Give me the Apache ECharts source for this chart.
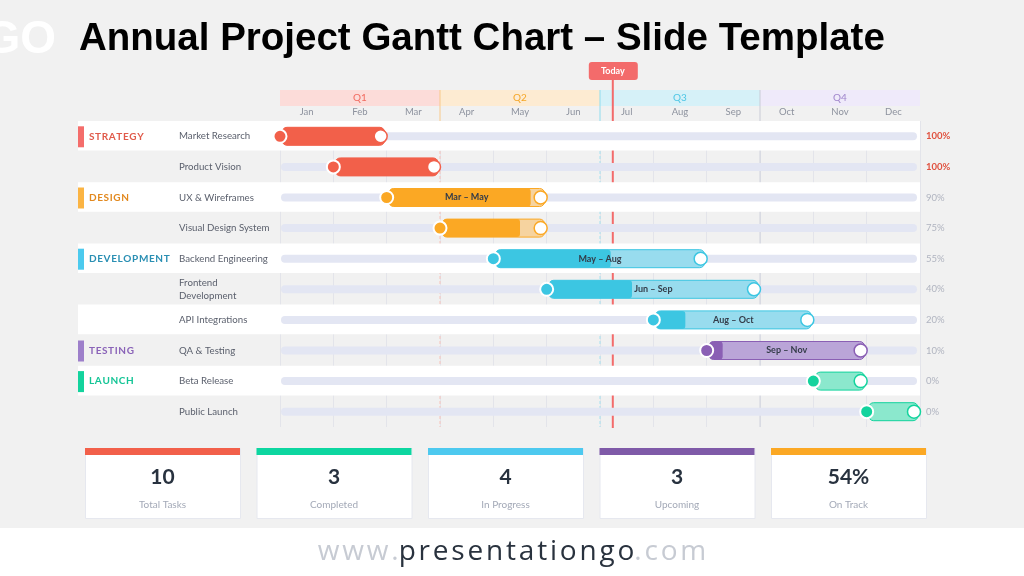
<!DOCTYPE html>
<html>
<head>
<meta charset="utf-8">
<script src="https://cdn.jsdelivr.net/npm/echarts@6/dist/echarts.min.js"></script>
<style>
  html, body { margin: 0; padding: 0; background: #f1f1f1; }
  #main { width: 1024px; height: 576px; }
</style>
</head>
<body>
<div id="main"></div>
<script>
// data
const months = ['Jan', 'Feb', 'Mar', 'Apr', 'May', 'Jun', 'Jul', 'Aug', 'Sep', 'Oct', 'Nov', 'Dec']
const quarters = ['Q1', 'Q2', 'Q3', 'Q4']
const quarterStart = [0, 3, 6, 9]
const groups = ['STRATEGY', 'STRATEGY', 'DESIGN', 'DESIGN', 'DEVELOPMENT', 'DEVELOPMENT', 'DEVELOPMENT', 'TESTING', 'LAUNCH', 'LAUNCH']
const tasks = ['Market Research', 'Product Vision', 'UX & Wireframes', 'Visual Design System', 'Backend Engineering',
  'Frontend Development', 'API Integrations', 'QA & Testing', 'Beta Release', 'Public Launch']
const startMonth = [0, 1, 2, 3, 4, 5, 7, 8, 10, 11]
const endMonth = [2, 3, 5, 5, 8, 9, 10, 11, 11, 12]
const progress = [100, 100, 90, 75, 55, 40, 20, 10, 0, 0]
const rangeLabels = ['', '', 'Mar – May', '', 'May – Aug', 'Jun – Sep', 'Aug – Oct', 'Sep – Nov', '', '']
const todayMonth = 6.24
const statValues = ['10', '3', '4', '3', '54%']
const statLabels = ['Total Tasks', 'Completed', 'In Progress', 'Upcoming', 'On Track']

// styles
const FONT = 'Lato, "Open Sans", sans-serif'
const groupColors = {
  STRATEGY: { main: '#f2604a', light: '#f8b2a4', text: '#e05a4a', mark: '#f46d6b' },
  DESIGN: { main: '#fba824', light: '#f6d39f', text: '#e2891f', mark: '#fbb443' },
  DEVELOPMENT: { main: '#3cc6e2', light: '#98dcee', text: '#2a8fb3', mark: '#4ccaee' },
  TESTING: { main: '#8a5fb4', light: '#baa5d8', text: '#8a63b8', mark: '#9d7fca' },
  LAUNCH: { main: '#13d39d', light: '#8be8cd', text: '#14c596', mark: '#13d39d' },
}
const quarterColors = [
  { bg: '#fcdcd9', text: '#f26b5f', line: '#f7c2b9', dash: [3, 2] },
  { bg: '#fdebd2', text: '#f5a626', line: '#f7c2b9', dash: [3, 2] },
  { bg: '#d6f1f8', text: '#4dc6e5', line: '#a6e1ee', dash: [3, 2] },
  { bg: '#efeafa', text: '#a085cc', line: '#d0d2dc', dash: null },
]
const statColors = ['#f2604a', '#0dd6a0', '#4dc9ef', '#7f5aa8', '#fba824']

const spaced = (s) => s.split('').join('\u200a')

const chart = echarts.init(document.getElementById('main'))

// 季度表头 + 季度分隔线
function renderQuarter(params, api) {
  const q = params.dataIndex
  const cs = params.coordSys
  const x0 = api.coord([quarterStart[q], 0])[0]
  const x1 = api.coord([quarterStart[q] + 3, 0])[0]
  const c = quarterColors[q]
  const children = [
    { type: 'rect', shape: { x: x0, y: cs.y - 31, width: x1 - x0, height: 16 }, style: { fill: c.bg } },
    {
      type: 'text', x: (x0 + x1) / 2, y: cs.y - 23,
      style: { text: quarters[q], fill: c.text, fontSize: 10, fontFamily: FONT, align: 'center', verticalAlign: 'middle' },
    },
  ]
  if (q > 0) {
    children.push({
      type: 'line', shape: { x1: x0, y1: cs.y - 31, x2: x0, y2: cs.y },
      style: { stroke: [null, '#f8c98a', '#8fdcee', '#c9cbd6'][q], lineWidth: 1 },
    })
    children.push({
      type: 'line', shape: { x1: x0, y1: cs.y, x2: x0, y2: cs.y + cs.height },
      style: { stroke: c.line, lineWidth: 1, lineDash: c.dash || 'solid' },
    })
  }
  return { type: 'group', children }
}

// 今日线
function renderToday(params, api) {
  const cs = params.coordSys
  const x = api.coord([api.value(0), 0])[0]
  return {
    type: 'group',
    children: [
      { type: 'line', shape: { x1: x, y1: cs.y - 42, x2: x, y2: cs.y + cs.height + 1 }, style: { stroke: '#f36b6b', lineWidth: 2 } },
      { type: 'rect', shape: { x: x - 24, y: cs.y - 59, width: 49, height: 18, r: 3 }, style: { fill: '#f36b6b' } },
      {
        type: 'text', x: x, y: cs.y - 50,
        style: { text: 'Today', fill: '#fff', fontSize: 9, fontWeight: 'bold', fontFamily: FONT, align: 'center', verticalAlign: 'middle' },
      },
    ],
  }
}

// 行背景、轨道、分组标签、百分比
function renderRow(params, api) {
  const i = api.value(1)
  const cs = params.coordSys
  const yc = api.coord([0, i])[1]
  const h = api.size([0, 1])[1]
  const x0 = api.coord([0, i])[0]
  const x1 = api.coord([12, i])[0]
  const g = groups[i]
  const col = groupColors[g]
  const children = []
  if (i % 2 === 0) {
    children.push({ type: 'rect', shape: { x: cs.x - 202, y: yc - h / 2, width: cs.width + 202, height: h - 1 }, style: { fill: '#ffffff' } })
  }
  children.push({ type: 'rect', shape: { x: x0 + 1, y: yc - 4, width: x1 - x0 - 4, height: 8, r: 4 }, style: { fill: '#e3e6f3' } })
  if (i === 0 || groups[i - 1] !== g) {
    children.push({ type: 'rect', shape: { x: cs.x - 202, y: yc - 10, width: 6, height: 21 }, style: { fill: col.mark } })
    children.push({
      type: 'text', x: cs.x - 191, y: yc,
      style: { text: spaced(g), fill: col.text, fontSize: 10, fontWeight: 'bold', fontFamily: FONT, verticalAlign: 'middle' },
    })
  }
  const p = progress[i]
  children.push({
    type: 'text', x: x1 + 6, y: yc,
    style: {
      text: p + '%', fill: p === 100 ? '#e0503e' : '#b0b4c0', fontSize: 9.5,
      fontWeight: p === 100 ? 'bold' : 'normal', fontFamily: FONT, verticalAlign: 'middle',
    },
  })
  return { type: 'group', children }
}

// 任务条
function renderBar(params, api) {
  const s = api.value(0)
  const e = api.value(1)
  const i = api.value(2)
  const p = api.value(3)
  const a = api.coord([s, i])
  const b = api.coord([e, i])
  const yc = a[1]
  const col = groupColors[groups[i]]
  const bx = a[0] + 2
  const bw = b[0] - 2 - bx
  const children = [
    {
      type: 'rect', shape: { x: bx, y: yc - 9, width: bw, height: 18, r: 5 },
      style: { fill: col.light, stroke: col.main, lineWidth: 1, opacity: 1 },
    },
  ]
  if (p > 0) {
    const pw = Math.min(bw, (b[0] - a[0]) * p / 100 - 2)
    children.push({
      type: 'rect', shape: { x: bx, y: yc - 9, width: pw, height: 18, r: p === 100 ? 5 : [5, 3, 3, 5] },
      style: { fill: col.main },
    })
  }
  if (rangeLabels[i]) {
    children.push({
      type: 'text', x: bx + bw / 2, y: yc,
      style: { text: rangeLabels[i], fill: '#333b48', fontSize: 9, fontWeight: 'bold', fontFamily: FONT, align: 'center', verticalAlign: 'middle' },
    })
  }
  children.push({ type: 'circle', shape: { cx: a[0], cy: yc, r: 6.5 }, style: { fill: col.main, stroke: '#fff', lineWidth: 2 } })
  children.push({ type: 'circle', shape: { cx: b[0] - 6, cy: yc, r: 6.5 }, style: { fill: '#fff', stroke: col.main, lineWidth: 1.5 } })
  return { type: 'group', children }
}

// 标题、页脚、底部统计卡片
const graphics = [
  {
    type: 'text', right: 968, top: 17,
    style: { text: 'GO', fill: '#ffffff', fontSize: 46, fontWeight: 'bold', fontFamily: '"Liberation Sans", Arial, sans-serif' },
  },
  {
    type: 'text', left: 79, top: 20,
    style: { text: 'Annual Project Gantt Chart – Slide Template', fill: '#000', fontSize: 38.5, fontWeight: 'bold', fontFamily: '"Liberation Sans", Arial, sans-serif' },
  },
  { type: 'rect', left: 0, top: 528, shape: { width: 1024, height: 48 }, style: { fill: '#ffffff' } },
  {
    type: 'text', left: 'center', top: 538,
    style: {
      text: '{a|' + spaced('www.') + '}{b|' + spaced('presentationgo') + '}{a|' + spaced('.com') + '}',
      rich: {
        a: { fill: '#c7cbd3', fontSize: 28, fontFamily: '"Open Sans", sans-serif' },
        b: { fill: '#29323e', fontSize: 28, fontFamily: '"Open Sans", sans-serif' },
      },
    },
  },
]
statValues.forEach((v, k) => {
  const x = 85 + k * 171.5
  graphics.push({ type: 'rect', left: x, top: 448, shape: { width: 155, height: 70 }, style: { fill: '#fff', stroke: '#e6e8ef', lineWidth: 1 } })
  graphics.push({ type: 'rect', left: x, top: 448, shape: { width: 155, height: 7 }, style: { fill: statColors[k] } })
  graphics.push({
    type: 'text', x: x + 77.5, y: 477,
    style: { text: v, fill: '#28323f', fontSize: 21, fontWeight: 'bold', fontFamily: FONT, align: 'center', verticalAlign: 'middle' },
  })
  graphics.push({
    type: 'text', x: x + 77.5, y: 505,
    style: { text: statLabels[k], fill: '#a3a9b7', fontSize: 10, fontFamily: FONT, align: 'center', verticalAlign: 'middle' },
  })
})

const option = {
  backgroundColor: '#f1f1f1',
  animation: false,
  grid: { left: 280, right: 104, top: 121, bottom: 149 },
  xAxis: [
    {
      type: 'value', min: 0, max: 12, interval: 1,
      axisLine: { show: false }, axisTick: { show: false }, axisLabel: { show: false },
      splitLine: { show: true, lineStyle: { color: '#e3e4ea', width: 1 } },
    },
    {
      type: 'category', position: 'top', data: months, boundaryGap: true,
      axisLine: { show: false }, axisTick: { show: false },
      axisLabel: { color: '#8d929e', fontSize: 9.5, fontFamily: FONT, margin: 4 },
    },
  ],
  yAxis: {
    type: 'category', data: tasks, inverse: true, z: 5,
    axisLine: { show: false }, axisTick: { show: false }, splitLine: { show: false },
    axisLabel: {
      align: 'left', margin: 101, color: '#5b606d', fontSize: 9.7, fontFamily: FONT,
      width: 95, overflow: 'break', lineHeight: 13,
    },
  },
  graphic: graphics,
  series: [
    { type: 'custom', name: 'quarters', renderItem: renderQuarter, data: quarterStart.map((q) => [q, 0]), clip: false, silent: true },
    { type: 'custom', name: 'today', renderItem: renderToday, data: [[todayMonth, 0]], clip: false, silent: true },
    { type: 'custom', name: 'rows', renderItem: renderRow, data: tasks.map((t, i) => [0, i]), clip: false, silent: true },
    {
      type: 'custom', name: 'tasks', renderItem: renderBar, clip: false,
      data: tasks.map((t, i) => [startMonth[i], endMonth[i], i, progress[i]]),
      encode: { x: [0, 1], y: 2 },
    },
  ],
}

chart.setOption(option)
</script>
</body>
</html>
